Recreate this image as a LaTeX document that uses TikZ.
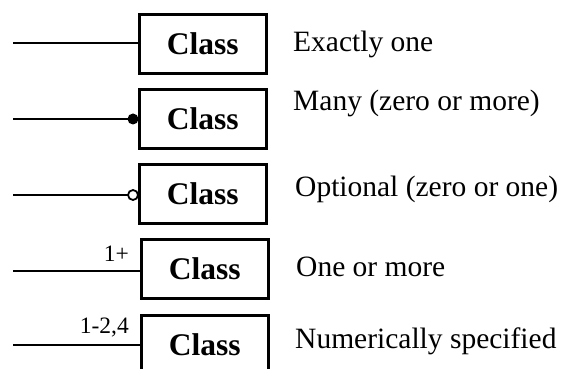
\documentclass[tikz,border=0pt]{standalone}
\usepackage{fontspec}
\setmainfont{Liberation Serif}
\begin{document}
\begin{tikzpicture}[x=1pt,y=-1pt,
  classbox/.style={draw, line width=2.6pt, minimum width=127pt, minimum height=59pt,
    inner sep=0pt, anchor=north west, font=\fontsize{31.5}{31.5}\selectfont\bfseries},
  caption/.style={anchor=west, inner sep=0pt, font=\fontsize{29.5}{30}\selectfont},
  mult/.style={anchor=south east, inner sep=0pt, font=\fontsize{23.5}{23.5}\selectfont},
  link/.style={line width=2.2pt},
  manydot/.style={circle, fill=black, minimum size=11pt, inner sep=0pt},
  optdot/.style={circle, draw, fill=white, line width=1.8pt, minimum size=10pt, inner sep=0pt}]
\useasboundingbox (0,0) rectangle (574,369);
\begin{scope}
\clip (0,0) rectangle (574,369);
% class boxes
\node[classbox] (c1) at (138,13) {Class};
\node[classbox] (c2) at (138,88) {Class};
\node[classbox] (c3) at (138,163) {Class};
\node[classbox] (c4) at (140,238) {Class};
\node[classbox] (c5) at (140,314) {Class};
% free line ends
\coordinate (e1) at (13,43);
\coordinate (e2) at (13,119);
\coordinate (e3) at (13,195);
\coordinate (e4) at (13,271);
\coordinate (e5) at (13,345);
% associations
\draw[link] (e1) -- (e1 -| c1.west);
\draw[link] (e2) -- (e2 -| c2.west);
\node[manydot] (d2) at (133,119) {};
\draw[link] (e3) -- (128,195);
\node[optdot] (d3) at (133,195) {};
\draw[link] (e4) -- (e4 -| c4.west);
\draw[link] (e5) -- (e5 -| c5.west);
\end{scope}
% multiplicity labels
\node[mult] (m4) at (129,262) {1+};
\node[mult] (m5) at (129,337) {1-2,4};
% captions
\node[caption] (t1) at (293,44) {Exactly one};
\node[caption] (t2) at (293,103) {Many (zero or more)};
\node[caption] (t3) at (295,189) {Optional (zero or one)};
\node[caption] (t4) at (296,267) {One or more};
\node[caption] (t5) at (295,341) {Numerically specified};
\end{tikzpicture}
\end{document}
